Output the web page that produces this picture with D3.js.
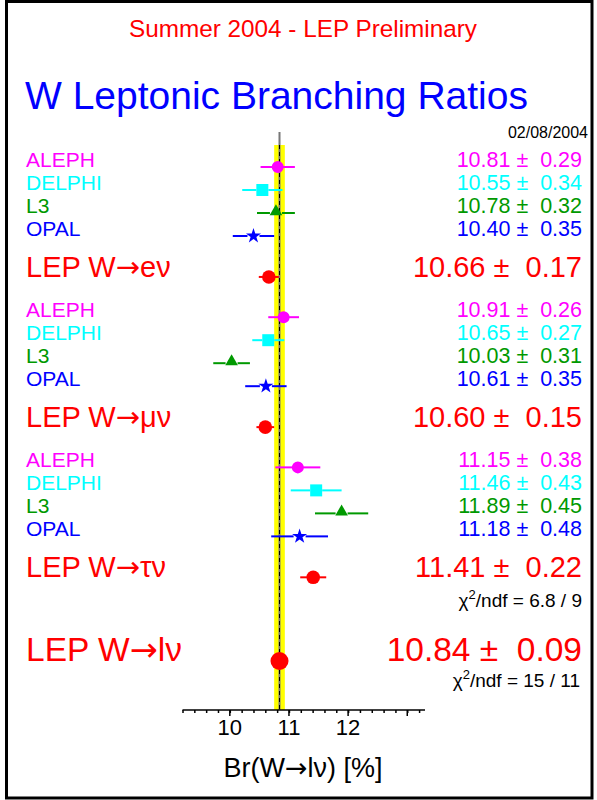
<!DOCTYPE html>
<html><head><meta charset="utf-8">
<script src="https://cdn.jsdelivr.net/npm/d3@7"></script>
<style>body{margin:0;background:#fff}svg{display:block}text{font-family:"Liberation Sans",Arial,Helvetica,sans-serif}.arr{font-family:"DejaVu Sans",sans-serif}</style>
</head><body><svg id="c" width="597" height="800"></svg>
<script>
const experiments = ["ALEPH","DELPHI","L3","OPAL"];
const expColors = ["#ff00ff","#00ffff","#009900","#0000ff"];
const expMarkers = ["circle","square","triangle","star"];
const channels = ["e","μ","τ"];
const channelSymbols = ["e\u03bd","\u03bc\u03bd","\u03c4\u03bd"];
const values = [[10.81,10.55,10.78,10.40],[10.91,10.65,10.03,10.61],[11.15,11.46,11.89,11.18]];
const errors = [[0.29,0.34,0.32,0.35],[0.26,0.27,0.31,0.35],[0.38,0.43,0.45,0.48]];
const lepValues = [10.66,10.60,11.41];
const lepErrors = [0.17,0.15,0.22];
const combValue = 10.84, combError = 0.09;
const chi2Tau = "6.8 / 9", chi2All = "15 / 11";
const majorTicks = [10,11,12,13];
const tickLabels = ["10","11","12"];
const xDomain = [9.2,13.3];

const svg = d3.select("#c");
const x = d3.scaleLinear().domain(xDomain).range([182.5,425]);
// row slot scale: one slot = spacing between experiment rows
const y = d3.scaleLinear().domain([0,1]).range([167,190]);
const groupSlots = 6.53, lepSlot = 4.78;
const axisY = 710;
const fmt = d3.format(".2f");

// frame
svg.append("rect").attr("x",6.5).attr("y",1.5).attr("width",585.5).attr("height",796.5)
  .attr("fill","none").attr("stroke","#000").attr("stroke-width",3);

svg.append("text").attr("x",303).attr("y",37).attr("text-anchor","middle")
  .attr("fill","#ff0000").style("font-size","24.3px").text("Summer 2004 - LEP Preliminary");
svg.append("text").attr("x",25).attr("y",109)
  .attr("fill","#0000ff").style("font-size","39px").text("W Leptonic Branching Ratios");
svg.append("text").attr("x",588).attr("y",138).attr("text-anchor","end")
  .attr("fill","#000").style("font-size","16px").text("02/08/2004");

// band and average line
svg.append("rect").attr("x",x(combValue-combError)).attr("y",145)
  .attr("width",x(combValue+combError)-x(combValue-combError)).attr("height",axisY-145)
  .attr("fill","#ffff00");
svg.append("line").attr("x1",x(combValue)).attr("x2",x(combValue)).attr("y1",132).attr("y2",axisY)
  .attr("stroke","#777").attr("stroke-width",2);
svg.append("line").attr("x1",x(combValue)).attr("x2",x(combValue)).attr("y1",145).attr("y2",axisY)
  .attr("stroke","#000").attr("stroke-width",1).attr("stroke-dasharray","4,3");

// axis
const axis = d3.axisBottom(x).tickValues(d3.range(9.2,13.25,0.2)).tickSize(3).tickFormat("");
const ag = svg.append("g").attr("transform",`translate(0,${axisY})`).call(axis);
ag.select(".domain").attr("stroke","#000").attr("stroke-width",1.5).attr("d",`M${x(xDomain[0])},0H${x(xDomain[1])}`);
ag.selectAll(".tick line").attr("stroke","#000").attr("stroke-width",1.5);
ag.selectAll(".major").data(majorTicks).join("line").attr("x1",d=>x(d)).attr("x2",d=>x(d))
  .attr("y1",0).attr("y2",6).attr("stroke","#000").attr("stroke-width",1.5);
ag.selectAll(".lbl").data(tickLabels).join("text").attr("x",d=>x(+d)).attr("y",25)
  .attr("text-anchor","middle").attr("fill","#000").style("font-size","22px").text(d=>d);

function arrowLabel(sel, prefix, suffix){
  sel.append("tspan").text(prefix);
  sel.append("tspan").attr("class","arr").text("\u2192");
  sel.append("tspan").text(suffix);
}
const xl = svg.append("text").attr("x",303).attr("y",777).attr("text-anchor","middle")
  .attr("fill","#000").style("font-size","27px");
arrowLabel(xl,"Br(W","l\u03bd) [%]");

const sym = {circle:d3.symbolCircle,square:d3.symbolSquare,triangle:d3.symbolTriangle,star:d3.symbolStar};
const symSize = {circle:113,square:144,triangle:70,star:70};

function errBar(v,e,yy,color,gap,w){
  const lo=x(v-e), hi=x(v+e), cx=x(v);
  if(cx-gap>lo) svg.append("line").attr("x1",lo).attr("x2",cx-gap).attr("y1",yy).attr("y2",yy).attr("stroke",color).attr("stroke-width",w);
  if(hi>cx+gap) svg.append("line").attr("x1",cx+gap).attr("x2",hi).attr("y1",yy).attr("y2",yy).attr("stroke",color).attr("stroke-width",w);
}
function valText(v,e){ return fmt(v)+" \u00b1\u00a0 "+fmt(e); }

channels.forEach((ch,g)=>{
  experiments.forEach((ex,i)=>{
    const yy = y(g*groupSlots+i), col = expColors[i], m = expMarkers[i];
    svg.append("text").attr("x",26).attr("y",yy).attr("fill",col).style("font-size","21px").text(ex);
    svg.append("text").attr("x",582).attr("y",yy).attr("text-anchor","end").attr("fill",col)
      .style("font-size","21.5px").style("white-space","pre").text(valText(values[g][i],errors[g][i]));
    errBar(values[g][i],errors[g][i],yy,col,m==="circle"?0:6,2);
    const dy = m==="triangle"? -1.5 : 0;
    svg.append("path").attr("d",d3.symbol(sym[m],symSize[m])())
      .attr("transform",`translate(${x(values[g][i])},${yy+dy})`).attr("fill",col);
  });
  const ly = y(g*groupSlots+lepSlot);
  const lt = svg.append("text").attr("x",26).attr("y",ly).attr("fill","#ff0000").style("font-size","29px");
  arrowLabel(lt,"LEP W",channelSymbols[g]);
  svg.append("text").attr("x",582).attr("y",ly).attr("text-anchor","end").attr("fill","#ff0000")
    .style("font-size","29px").style("white-space","pre").text(valText(lepValues[g],lepErrors[g]));
  errBar(lepValues[g],lepErrors[g],ly,"#ff0000",0,2);
  svg.append("circle").attr("cx",x(lepValues[g])).attr("cy",ly).attr("r",6.8).attr("fill","#ff0000");
});

function chi2(txt,xx,yy){
  const t = svg.append("text").attr("x",xx).attr("y",yy).attr("text-anchor","end").attr("fill","#000").style("font-size","19px");
  t.append("tspan").text("\u03c7");
  t.append("tspan").attr("dy",-8).style("font-size","13px").text("2");
  t.append("tspan").attr("dy",8).text("/ndf = "+txt);
}
const tauLepY = y(2*groupSlots+lepSlot);
chi2(chi2Tau,582,tauLepY+30);

const combY = 661;
const ct = svg.append("text").attr("x",26).attr("y",combY).attr("fill","#ff0000").style("font-size","33.5px");
arrowLabel(ct,"LEP W","l\u03bd");
svg.append("text").attr("x",582).attr("y",combY).attr("text-anchor","end").attr("fill","#ff0000")
  .style("font-size","33.5px").style("white-space","pre").text(valText(combValue,combError));
svg.append("circle").attr("cx",x(combValue)).attr("cy",combY).attr("r",9).attr("fill","#ff0000");
chi2(chi2All,580,combY+26);
</script></body></html>
